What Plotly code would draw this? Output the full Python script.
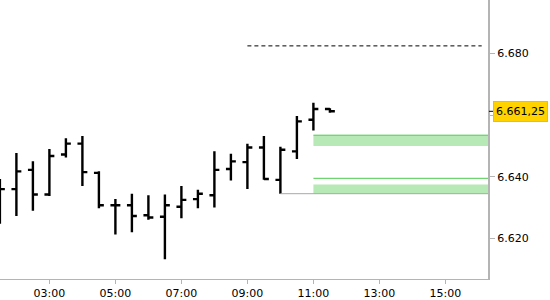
import plotly.graph_objects as go

day = "2024-01-15 "
times = ["01:30", "02:00", "02:30", "03:00", "03:30", "04:00", "04:30", "05:00",
         "05:30", "06:00", "06:30", "07:00", "07:30", "08:00", "08:30", "09:00",
         "09:30", "10:00", "10:30", "11:00", "11:30"]
opens = [6630.0, 6636.0, 6642.25, 6634.25, 6647.25, 6650.75, 6641.25, 6630.75,
         6630.75, 6627.5, 6627.0, 6630.25, 6632.75, 6634.0, 6642.5, 6644.75,
         6649.5, 6639.0, 6648.25, 6658.5, 6662.0]
highs = [6639.25, 6647.75, 6645.0, 6649.0, 6652.5, 6653.25, 6641.75, 6632.75,
         6634.5, 6634.0, 6634.25, 6637.0, 6635.75, 6648.25, 6647.5, 6650.75,
         6653.25, 6649.75, 6659.75, 6664.0, 6662.25]
lows = [6624.75, 6627.25, 6629.0, 6633.75, 6646.25, 6637.0, 6629.75, 6621.25,
        6622.0, 6626.0, 6613.25, 6626.5, 6629.75, 6630.0, 6638.75, 6636.0,
        6639.0, 6634.5, 6645.75, 6655.0, 6660.75]
closes = [6636.0, 6641.75, 6634.25, 6646.75, 6650.75, 6641.5, 6630.75, 6630.75,
          6627.25, 6626.75, 6630.75, 6632.5, 6634.5, 6642.25, 6645.0, 6649.5,
          6639.25, 6648.75, 6658.0, 6662.0, 6661.25]

# y-axis ticks (the 6.660 label sits under the last-price box)
y_tickvals = [6620, 6640, 6660, 6680]
y_hidden = [6660]

# reference levels
dashed_level = 6682.5
dashed_start, dashed_end = "09:00", "16:06"
session_low = 6634.5
session_low_start = "10:00"
zone_start = "11:00"
zone_bottoms = [6650.0, 6634.5]
zone_tops = [6653.5, 6637.5]
green_lines = [6653.5, 6639.5]
far_end = "18:00"


def de_fmt(v, dec):
    s = "{:,.{d}f}".format(v, d=dec)
    return s.replace(",", "X").replace(".", ",").replace("X", ".")


x = [day + t for t in times]
last = closes[-1]
last_txt = de_fmt(last, 2)
y_ticktext = ["" if v in y_hidden else de_fmt(v, 0) for v in y_tickvals]

FONT = "DejaVu Sans"
AXIS = "#b4b4b4"

fig = go.Figure(go.Ohlc(
    x=x, open=opens, high=highs, low=lows, close=closes,
    increasing=dict(line=dict(color="black", width=2.4)),
    decreasing=dict(line=dict(color="black", width=2.4)),
    tickwidth=0.3, hoverinfo="skip", showlegend=False,
))

shapes = []
for b, t in zip(zone_bottoms, zone_tops):
    shapes.append(dict(type="rect", xref="x", yref="y", x0=day + zone_start, x1=day + far_end,
                       y0=b, y1=t, fillcolor="#b6e9b6", line=dict(width=0), layer="below"))
for g in green_lines:
    shapes.append(dict(type="line", xref="x", yref="y", x0=day + zone_start, x1=day + far_end,
                       y0=g, y1=g, line=dict(color="#4ccb4c", width=1)))
shapes.append(dict(type="line", xref="x", yref="y", x0=day + session_low_start, x1=day + far_end,
                   y0=session_low, y1=session_low, line=dict(color="#a8a8a8", width=1)))
shapes.append(dict(type="line", xref="x", yref="y", x0=day + dashed_start, x1=day + dashed_end,
                   y0=dashed_level, y1=dashed_level, line=dict(color="black", width=1, dash="4px,3px")))
shapes.append(dict(type="line", xref="paper", yref="y", x0=1.002, x1=1.012,
                   y0=last, y1=last, line=dict(color="black", width=1)))

fig.update_layout(
    width=550, height=300,
    margin=dict(l=0, r=62, t=0, b=21),
    paper_bgcolor="white", plot_bgcolor="white",
    separators=",.",
    font=dict(family=FONT, size=11, color="black"),
    shapes=shapes,
    xaxis=dict(
        type="date",
        range=[day + "01:30:11", day + "16:17:28"],
        tick0=day + "01:00", dtick=2 * 3600000, tickformat="%H:%M",
        ticks="outside", ticklen=4, tickcolor=AXIS,
        showline=True, linecolor=AXIS, linewidth=1,
        showgrid=False, zeroline=False,
        rangeslider=dict(visible=False),
        tickfont=dict(family=FONT, size=11, color="black"),
    ),
    yaxis=dict(
        side="right",
        range=[6606.8, 6697.4],
        tickmode="array", tickvals=y_tickvals, ticktext=y_ticktext,
        ticks="outside", ticklen=5, tickcolor=AXIS,
        showline=True, linecolor=AXIS, linewidth=2,
        showgrid=False, zeroline=False,
        tickfont=dict(family=FONT, size=11, color="black"),
    ),
    annotations=[dict(
        x=1, xref="paper", y=last, yref="y", xanchor="left", yanchor="middle",
        xshift=5, text=last_txt, showarrow=False, height=15,
        bgcolor="#ffd200", bordercolor="#b8b8b8", borderwidth=1, borderpad=2,
        font=dict(family=FONT, size=11, color="black"),
    )],
)

fig.write_html("out.html")
